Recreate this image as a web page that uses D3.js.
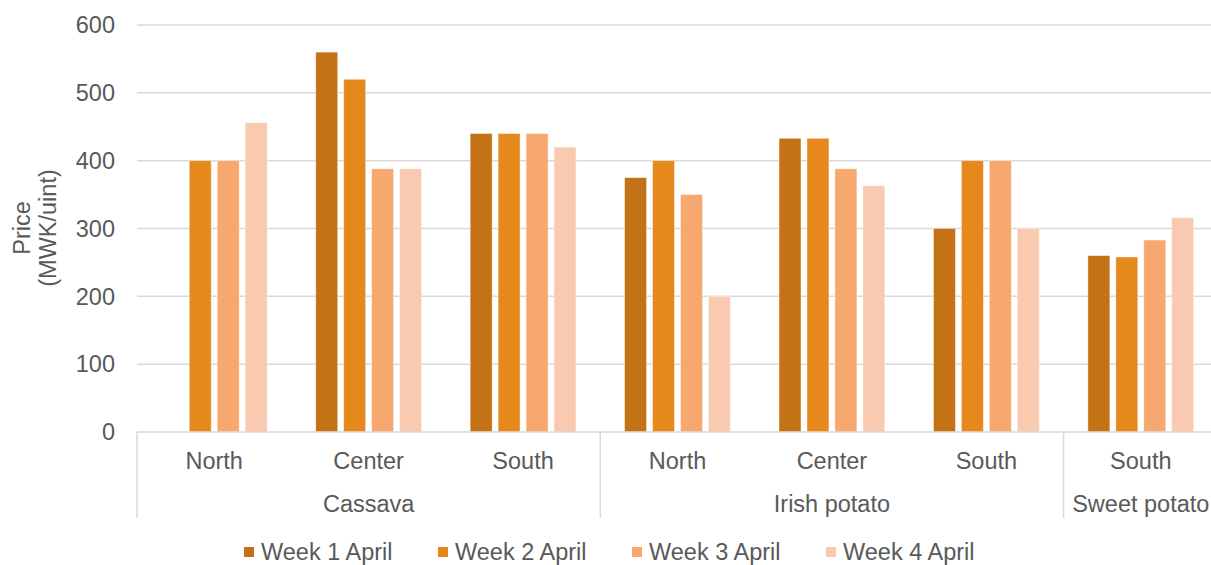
<!DOCTYPE html>
<html>
<head>
<meta charset="utf-8">
<script src="https://cdn.jsdelivr.net/npm/d3@7"></script>
<style>
  body { margin: 0; background: #fff; overflow: hidden; }
  text { font-family: "Liberation Sans", Arial, sans-serif; fill: #595959; }
</style>
</head>
<body>
<div id="chart"></div>
<script>
// categories: crop + region
const crops = ["Cassava", "Cassava", "Cassava", "Irish potato", "Irish potato", "Irish potato", "Sweet potato"];
const regions = ["North", "Center", "South", "North", "Center", "South", "South"];
const series = ["Week 1 April", "Week 2 April", "Week 3 April", "Week 4 April"];
const week1 = [null, 560, 440, 375, 433, 300, 260];
const week2 = [400, 520, 440, 400, 433, 400, 258];
const week3 = [400, 388, 440, 350, 388, 400, 283];
const week4 = [456, 388, 420, 200, 363, 300, 316];
const yTicks = [0, 100, 200, 300, 400, 500, 600];
const colors = ["#C37215", "#E6891C", "#F6A86E", "#F9C9B0"];

const W = 1211, H = 565;
// plot runs a bit past the right edge, like the original
const margin = {top: 25, right: -7, bottom: 133, left: 137};
const width = W - margin.left - margin.right;
const height = H - margin.top - margin.bottom;
const fs = "23.5px";

const svg = d3.select("#chart").append("svg")
    .attr("width", W).attr("height", H);
const g = svg.append("g").attr("transform", `translate(${margin.left},${margin.top})`);

const x0 = d3.scaleBand().domain(d3.range(regions.length)).range([0, width]);
const x1 = d3.scaleBand().domain(series).range([0, x0.bandwidth()])
    .paddingInner(0.214).paddingOuter(0.87);
const y = d3.scaleLinear().domain([0, 600]).range([height, 0]);

// gridlines
g.append("g").selectAll("line")
    .data(yTicks.filter(d => d > 0)).enter().append("line")
    .attr("x1", 0).attr("x2", width)
    .attr("y1", d => y(d)).attr("y2", d => y(d))
    .attr("stroke", "#d9d9d9").attr("stroke-width", 1.5);

// y tick labels
g.append("g").selectAll("text")
    .data(yTicks).enter().append("text")
    .attr("x", -22).attr("y", d => y(d))
    .attr("dy", "0.35em")
    .attr("text-anchor", "end")
    .style("font-size", fs)
    .text(d => d);

// bars
const allSeries = [week1, week2, week3, week4];
allSeries.forEach((vals, si) => {
    g.append("g").selectAll("rect")
        .data(vals.map((v, i) => ({i, v})).filter(d => d.v != null))
        .enter().append("rect")
        .attr("x", d => x0(d.i) + x1(series[si]))
        .attr("y", d => y(d.v))
        .attr("width", x1.bandwidth())
        .attr("height", d => height - y(d.v))
        .attr("fill", colors[si])
        .attr("stroke", "#fff").attr("stroke-opacity", 0.5).attr("stroke-width", 0.8);
});

// x axis line
g.append("line")
    .attr("x1", 0).attr("x2", width)
    .attr("y1", height).attr("y2", height)
    .attr("stroke", "#d9d9d9").attr("stroke-width", 1.5);

// region labels
g.append("g").selectAll("text")
    .data(regions).enter().append("text")
    .attr("x", (d, i) => x0(i) + x0.bandwidth() / 2)
    .attr("y", height + 37)
    .attr("text-anchor", "middle")
    .style("font-size", fs)
    .text(d => d);

// crop groups
const cropNames = Array.from(new Set(crops));
const cropSpans = cropNames.map(c => {
    const idx = crops.map((d, i) => d === c ? i : -1).filter(i => i >= 0);
    return {name: c, start: x0(idx[0]), end: x0(idx[idx.length - 1]) + x0.bandwidth()};
});

g.append("g").selectAll("line")
    .data(cropSpans).enter().append("line")
    .attr("x1", d => d.start).attr("x2", d => d.start)
    .attr("y1", height).attr("y2", height + 86)
    .attr("stroke", "#d9d9d9").attr("stroke-width", 1.5);

g.append("g").selectAll("text")
    .data(cropSpans).enter().append("text")
    .attr("x", d => (d.start + d.end) / 2)
    .attr("y", height + 80)
    .attr("text-anchor", "middle")
    .style("font-size", fs)
    .text(d => d.name);

// y axis title
const yTitle = svg.append("text")
    .attr("transform", "translate(32,228) rotate(-90)")
    .attr("text-anchor", "middle")
    .style("font-size", fs);
yTitle.append("tspan").attr("x", 0).attr("dy", "-0.1em").text("Price");
yTitle.append("tspan").attr("x", 0).attr("dy", "1.1em").text("(MWK/uint)");

// legend
const legend = svg.append("g").attr("transform", "translate(244,552)");
const items = legend.selectAll("g").data(series).enter().append("g")
    .attr("transform", (d, i) => `translate(${i * 194},0)`);
items.append("rect")
    .attr("x", 0).attr("y", -5).attr("width", 10).attr("height", 10)
    .attr("fill", (d, i) => colors[i]);
items.append("text")
    .attr("x", 17).attr("dy", "0.35em")
    .style("font-size", fs)
    .text(d => d);
</script>
</body>
</html>
